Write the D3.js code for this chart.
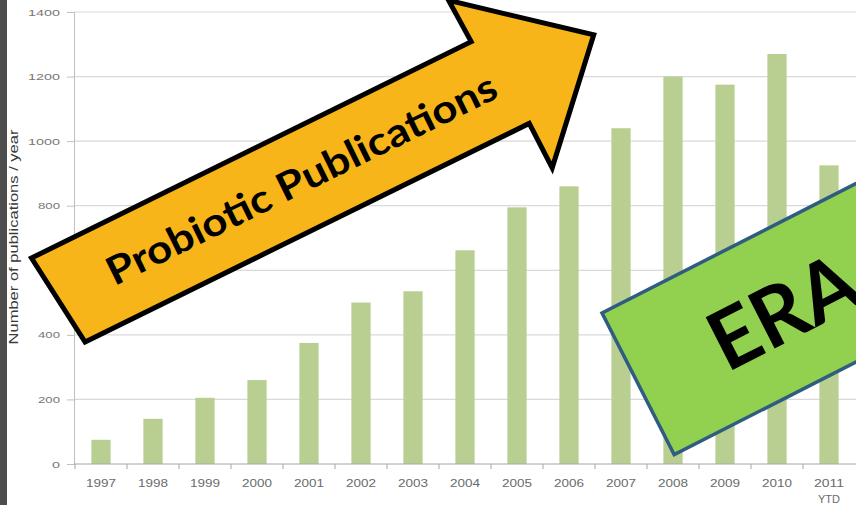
<!DOCTYPE html>
<html><head><meta charset="utf-8">
<script src="https://cdn.jsdelivr.net/npm/d3@7"></script>
<style>html,body{margin:0;padding:0;background:#fff;overflow:hidden}</style>
</head><body>
<svg id="c" width="856" height="505"></svg>
<script>
// ---- data ----
const years = ["1997","1998","1999","2000","2001","2002","2003","2004","2005","2006","2007","2008","2009","2010","2011"];
const xLabelLines = [["1997"],["1998"],["1999"],["2000"],["2001"],["2002"],["2003"],["2004"],["2005"],["2006"],["2007"],["2008"],["2009"],["2010"],["2011","YTD"]];
const publications = [75,140,205,260,375,500,535,662,795,860,1040,1200,1175,1270,925];
const yTicks = [0,200,400,600,800,1000,1200,1400];
const yTitle = "Number of publications / year";
const arrowText = "Probiotic Publications";
const boxText = "ERA";

(function(){
const svg = d3.select("#c");
const W = 856, H = 505;
const pLeft = 74, pRight = 856, pTop = 12, pBottom = 464;

svg.append("rect").attr("x",0).attr("y",0).attr("width",W).attr("height",H).attr("fill","#fff");
svg.append("rect").attr("x",0).attr("y",0).attr("width",7).attr("height",H).attr("fill","#4d4d4d");

const x = d3.scaleBand().domain(years).range([75,855]).paddingInner(0.63).paddingOuter(0.315);
const y = d3.scaleLinear().domain([0,1400]).range([pBottom, pTop]);

// gridlines
svg.append("g").selectAll("line").data(yTicks.filter(d=>d>0)).join("line")
  .attr("x1",pLeft).attr("x2",pRight).attr("y1",d=>y(d)).attr("y2",d=>y(d))
  .attr("stroke","#d9d9d9").attr("stroke-width",1.2);

// y axis
const yAxis = svg.append("g").attr("transform",`translate(${pLeft},0)`)
  .call(d3.axisLeft(y).tickValues(yTicks).tickSize(7).tickPadding(7).tickFormat(d3.format("d")));
yAxis.select(".domain").attr("stroke","#bfbfbf");
yAxis.selectAll(".tick line").attr("stroke","#bfbfbf");
yAxis.selectAll(".tick text").attr("fill","#777").attr("font-family","Liberation Sans, Arial, sans-serif")
  .attr("font-size",9.5).attr("textLength",function(){const n=this.textContent.length;return n>=4?32:(n===3?22:8);})
  .attr("lengthAdjust","spacingAndGlyphs");

// bars
svg.append("g").selectAll("rect").data(years).join("rect")
  .attr("x",d=>x(d)).attr("width",x.bandwidth())
  .attr("y",(d,i)=>y(publications[i])).attr("height",(d,i)=>y(0)-y(publications[i]))
  .attr("fill","#b8cf91");

// x axis
const xAxis = svg.append("g").attr("transform",`translate(0,${pBottom})`)
  .call(d3.axisBottom(x).tickSize(0).tickFormat(""));
xAxis.select(".domain").attr("stroke","#a6a6a6").attr("d",`M${pLeft},0H${pRight}`);
const gap = (x.step()-x.bandwidth())/2;
svg.append("g").selectAll("line").data(years).join("line")
  .attr("x1",d=>x(d)-gap).attr("x2",d=>x(d)-gap)
  .attr("y1",pBottom).attr("y2",pBottom+5).attr("stroke","#a6a6a6");
const xl = svg.append("g");
years.forEach((yr,i)=>{
  xLabelLines[i].forEach((ln,j)=>{
    xl.append("text").attr("x",x(yr)+x.bandwidth()/2).attr("y",pBottom+23+j*16)
      .attr("text-anchor","middle").attr("fill","#6a6a6a")
      .attr("font-family","Liberation Sans, Arial, sans-serif").attr("font-size",11)
      .attr("textLength",ln.length===4?30:22).attr("lengthAdjust","spacingAndGlyphs").text(ln);
  });
});

// y title
svg.append("text").attr("transform","translate(18,237) rotate(-90)")
  .attr("text-anchor","middle").attr("fill","#3a3a3a")
  .attr("font-family","Liberation Sans, Arial, sans-serif").attr("font-size",12)
  .attr("textLength",215).attr("lengthAdjust","spacingAndGlyphs").text(yTitle);

// arrow annotation (local frame)
const ag = svg.append("g").attr("transform","translate(31.5,258) rotate(-26.2)");
const arrowPts = [[0,0],[490,0],[488,-47],[603,48],[507,149],[506,99],[11,99]];
ag.append("path").attr("d","M"+arrowPts.map(p=>p.join(",")).join("L")+"Z")
  .attr("fill","#f8b519").attr("stroke","#000").attr("stroke-width",5).attr("stroke-linejoin","miter");
ag.append("text").attr("x",62).attr("y",62).attr("fill","#000")
  .attr("font-family","Lato, 'Open Sans', sans-serif").attr("font-weight",700).attr("font-size",39)
  .attr("textLength",430).attr("lengthAdjust","spacingAndGlyphs").text(arrowText);

// ERA box
const eg = svg.append("g").attr("transform","translate(602,313) rotate(-27)");
eg.append("rect").attr("x",0).attr("y",0).attr("width",420).attr("height",159)
  .attr("fill","#92d050").attr("stroke","#2f5d80").attr("stroke-width",3.5);
eg.append("text").attr("x",84).attr("y",110).attr("fill","#000")
  .attr("font-family","Lato, 'Open Sans', sans-serif").attr("font-weight",700).attr("font-size",82)
  .text(boxText);
})();
</script>
</body></html>
